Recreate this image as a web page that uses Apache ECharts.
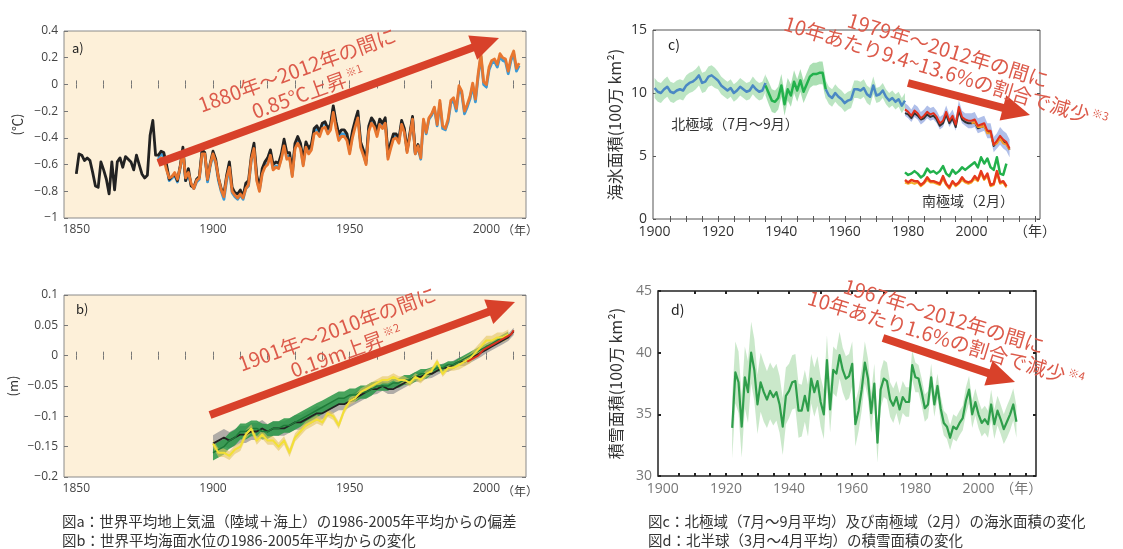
<!DOCTYPE html>
<html>
<head>
<meta charset="utf-8">
<script src="https://cdn.jsdelivr.net/npm/echarts@6/dist/echarts.min.js"></script>
<style>
  html, body { margin: 0; background: #fff; }
  #chart { width: 1123px; height: 549px; }
</style>
</head>
<body>
<div id="chart"></div>
<script>
// ---- a) 世界平均地上気温 偏差 (℃) ----
const aBlackStart = 1850
const aBlack = [
  -0.67, -0.52, -0.53, -0.57, -0.55, -0.57, -0.66, -0.76, -0.77, -0.58,
  -0.64, -0.71, -0.82, -0.58, -0.79, -0.58, -0.55, -0.62, -0.54, -0.56,
  -0.58, -0.64, -0.53, -0.60, -0.67, -0.70, -0.68, -0.38, -0.27, -0.53,
  -0.53, -0.50, -0.51, -0.60, -0.71, -0.69, -0.67, -0.72, -0.61, -0.47,
  -0.72, -0.63, -0.76, -0.77, -0.71, -0.69, -0.49, -0.51, -0.71, -0.59,
  -0.50, -0.56, -0.70, -0.78, -0.82, -0.68, -0.58, -0.77, -0.81, -0.82,
  -0.79, -0.84, -0.74, -0.72, -0.54, -0.44, -0.68, -0.77, -0.63, -0.58,
  -0.55, -0.49, -0.60, -0.58, -0.59, -0.52, -0.41, -0.51, -0.51, -0.65,
  -0.44, -0.39, -0.44, -0.57, -0.43, -0.48, -0.45, -0.33, -0.31, -0.35,
  -0.29, -0.28, -0.33, -0.30, -0.16, -0.28, -0.37, -0.34, -0.34, -0.37,
  -0.47, -0.35, -0.27, -0.20, -0.43, -0.49, -0.57, -0.31, -0.25, -0.28,
  -0.35, -0.26, -0.29, -0.25, -0.52, -0.44, -0.37, -0.37, -0.41, -0.27,
  -0.33, -0.49, -0.37, -0.24, -0.51, -0.45, -0.54
]
const aColorStart = 1880
const aOrange = [
  -0.58, -0.55, -0.56, -0.64, -0.70, -0.69, -0.66, -0.71, -0.62, -0.50,
  -0.70, -0.66, -0.74, -0.78, -0.72, -0.70, -0.52, -0.52, -0.71, -0.60,
  -0.52, -0.58, -0.70, -0.79, -0.84, -0.70, -0.62, -0.80, -0.83, -0.85,
  -0.82, -0.85, -0.78, -0.75, -0.56, -0.48, -0.72, -0.80, -0.67, -0.62,
  -0.60, -0.53, -0.64, -0.62, -0.63, -0.56, -0.46, -0.56, -0.55, -0.69,
  -0.48, -0.44, -0.48, -0.61, -0.47, -0.52, -0.49, -0.37, -0.36, -0.39,
  -0.33, -0.32, -0.37, -0.34, -0.21, -0.33, -0.42, -0.39, -0.39, -0.42,
  -0.52, -0.40, -0.32, -0.25, -0.47, -0.53, -0.60, -0.35, -0.29, -0.32,
  -0.39, -0.30, -0.33, -0.29, -0.56, -0.48, -0.41, -0.40, -0.44, -0.30,
  -0.36, -0.51, -0.39, -0.26, -0.52, -0.46, -0.55, -0.26, -0.36, -0.25,
  -0.22, -0.17, -0.30, -0.12, -0.31, -0.33, -0.26, -0.12, -0.10, -0.18,
  -0.01, -0.05, -0.20, -0.15, -0.09, 0.01, -0.11, 0.08, 0.23, 0.02,
  0.00, 0.13, 0.18, 0.19, 0.15, 0.23, 0.20, 0.19, 0.10, 0.20,
  0.25, 0.12, 0.16
]
const aBlue = [
  -0.56, -0.52, -0.54, -0.62, -0.72, -0.70, -0.68, -0.73, -0.63, -0.49,
  -0.72, -0.67, -0.75, -0.78, -0.73, -0.71, -0.51, -0.52, -0.73, -0.61,
  -0.53, -0.59, -0.72, -0.80, -0.86, -0.72, -0.63, -0.81, -0.84, -0.86,
  -0.83, -0.86, -0.78, -0.76, -0.57, -0.47, -0.71, -0.79, -0.66, -0.61,
  -0.59, -0.52, -0.63, -0.61, -0.62, -0.55, -0.44, -0.54, -0.54, -0.68,
  -0.47, -0.42, -0.46, -0.60, -0.45, -0.50, -0.47, -0.35, -0.33, -0.37,
  -0.30, -0.29, -0.35, -0.31, -0.18, -0.30, -0.40, -0.37, -0.37, -0.40,
  -0.50, -0.38, -0.30, -0.23, -0.45, -0.52, -0.59, -0.33, -0.27, -0.30,
  -0.37, -0.28, -0.31, -0.27, -0.54, -0.46, -0.39, -0.39, -0.43, -0.29,
  -0.35, -0.50, -0.38, -0.26, -0.52, -0.47, -0.56, -0.27, -0.37, -0.26,
  -0.23, -0.18, -0.31, -0.14, -0.33, -0.34, -0.28, -0.14, -0.12, -0.20,
  -0.03, -0.07, -0.22, -0.17, -0.11, -0.01, -0.13, 0.06, 0.21, 0.00,
  -0.02, 0.11, 0.16, 0.17, 0.13, 0.21, 0.18, 0.17, 0.08, 0.18,
  0.23, 0.10, 0.14
]

// ---- b) 世界平均海面水位 (m), 2年ごと ----
const bStart = 1900, bStep = 2
const bBlack = [
  -0.145, -0.14, -0.135, -0.14, -0.135, -0.13, -0.13, -0.125, -0.125, -0.12,
  -0.125, -0.12, -0.12, -0.12, -0.115, -0.11, -0.11, -0.105, -0.10, -0.095,
  -0.095, -0.09, -0.085, -0.08, -0.08, -0.075, -0.07, -0.065, -0.06, -0.055,
  -0.055, -0.05, -0.055, -0.055, -0.05, -0.045, -0.04, -0.035, -0.035, -0.03,
  -0.03, -0.025, -0.02, -0.02, -0.015, -0.01, -0.01, -0.005, 0.0, 0.005,
  0.01, 0.015, 0.02, 0.025, 0.03, 0.04
]
const bBlackErr = [
  0.014, 0.014, 0.014, 0.014, 0.014, 0.014, 0.014, 0.014, 0.014, 0.014,
  0.012, 0.012, 0.012, 0.012, 0.012, 0.012, 0.012, 0.012, 0.012, 0.012,
  0.010, 0.010, 0.010, 0.010, 0.010, 0.010, 0.010, 0.010, 0.010, 0.010,
  0.008, 0.008, 0.008, 0.008, 0.008, 0.008, 0.008, 0.008, 0.008, 0.008,
  0.007, 0.007, 0.007, 0.007, 0.007, 0.007, 0.007, 0.007, 0.007, 0.007,
  0.006, 0.006, 0.006, 0.006, 0.006, 0.006
]
const bGreen = [
  -0.16, -0.155, -0.15, -0.14, -0.135, -0.125, -0.125, -0.12, -0.12, -0.125,
  -0.125, -0.12, -0.12, -0.115, -0.115, -0.11, -0.105, -0.10, -0.095, -0.09,
  -0.085, -0.08, -0.075, -0.07, -0.07, -0.065, -0.065, -0.06, -0.06, -0.055,
  -0.05, -0.05, -0.05, -0.045, -0.045, -0.04, -0.04, -0.035, -0.03, -0.03,
  -0.025, -0.02, -0.02, -0.015, -0.015, -0.01, -0.005, 0.0, 0.005, 0.01,
  0.015, 0.02, 0.025, 0.03, 0.035
]
const bGreenErr = [
  0.013, 0.013, 0.013, 0.013, 0.013, 0.013, 0.013, 0.013, 0.013, 0.013,
  0.012, 0.012, 0.012, 0.012, 0.012, 0.012, 0.012, 0.012, 0.012, 0.012,
  0.011, 0.011, 0.011, 0.011, 0.011, 0.011, 0.011, 0.011, 0.011, 0.011,
  0.008, 0.008, 0.008, 0.008, 0.008, 0.008, 0.008, 0.008, 0.008, 0.008,
  0.006, 0.006, 0.006, 0.006, 0.006, 0.006, 0.006, 0.006, 0.006, 0.006,
  0.005, 0.005, 0.005, 0.005, 0.005
]
const bYellow = [
  -0.145, -0.16, -0.16, -0.165, -0.155, -0.15, -0.13, -0.12, -0.14, -0.13,
  -0.14, -0.14, -0.15, -0.14, -0.16, -0.135, -0.125, -0.115, -0.11, -0.105,
  -0.11, -0.095, -0.10, -0.115, -0.09, -0.075, -0.07, -0.06, -0.055, -0.05,
  -0.045, -0.04, -0.04, -0.035, -0.04, -0.04, -0.045, -0.035, -0.04, -0.03,
  -0.025, -0.01, -0.03, -0.02, -0.02, -0.015, -0.01, -0.005, 0.005, 0.015,
  0.025, 0.025, 0.03, 0.03, 0.035
]
const bYellowErr = [
  0.007, 0.007, 0.007, 0.007, 0.007, 0.007, 0.007, 0.007, 0.007, 0.007,
  0.007, 0.007, 0.007, 0.007, 0.007, 0.007, 0.007, 0.007, 0.007, 0.007,
  0.006, 0.006, 0.006, 0.006, 0.006, 0.006, 0.006, 0.006, 0.006, 0.006,
  0.006, 0.006, 0.006, 0.006, 0.006, 0.006, 0.006, 0.006, 0.006, 0.006,
  0.005, 0.005, 0.005, 0.005, 0.005, 0.008, 0.008, 0.008, 0.008, 0.008,
  0.008, 0.008, 0.008, 0.008, 0.008
]
const bRedYears = [1993, 1995, 1997, 1999, 2001, 2003, 2005, 2007, 2009, 2010]
const bRed = [-0.01, -0.005, 0.0, 0.01, 0.015, 0.02, 0.025, 0.03, 0.035, 0.042]

// ---- c) 海氷面積 (100万 km2) ----
const cHistStart = 1900
const cHist = [
  10.4, 10.1, 10.0, 10.3, 10.5, 10.1, 10.0, 10.2, 10.3, 10.2,
  10.6, 10.8, 10.9, 11.1, 11.4, 10.8, 10.9, 11.3, 11.4, 11.2,
  11.0, 10.6, 10.4, 10.2, 10.4, 10.0, 10.2, 10.5, 10.3, 10.1,
  10.2, 10.6, 10.3, 10.1, 10.2, 10.8, null, null, null, null,
  null, null, null, null, null, null, null, null, null, null,
  null, null, null, null, 10.3, 9.8, 9.6, 10.0, 9.7, 9.5,
  9.2, 9.4, 9.5, 10.3, 10.3, 10.2, 10.4, 9.9, 9.7, 10.6,
  9.8, 9.9, 10.2, 9.7, 9.4, 9.6, 9.3, 9.5, 9.0, 9.4
]
const cHistErr = [
  0.8, 0.8, 0.8, 0.8, 0.8, 0.8, 0.8, 0.8, 0.8, 0.8,
  0.8, 0.8, 0.8, 0.8, 0.8, 0.8, 0.8, 0.8, 0.8, 0.8,
  0.7, 0.7, 0.7, 0.7, 0.7, 0.7, 0.7, 0.7, 0.7, 0.7,
  0.7, 0.7, 0.7, 0.7, 0.7, 0.7, null, null, null, null,
  null, null, null, null, null, null, null, null, null, null,
  null, null, null, null, 0.7, 0.7, 0.7, 0.7, 0.7, 0.7,
  0.7, 0.7, 0.7, 0.7, 0.7, 0.7, 0.7, 0.7, 0.7, 0.7,
  0.6, 0.6, 0.6, 0.6, 0.6, 0.6, 0.6, 0.6, 0.6, 0.6
]
const cGreenStart = 1935
const cGreen = [
  10.6, 10.0, 9.4, 9.3, 9.6, 10.6, 9.1, 10.3, 9.8, 10.9,
  10.2, 11.0, 10.1, 10.7, 11.3, 11.5, 11.5, 11.6, 11.6, 10.3
]
const cGreenErr = [
  0.8, 0.9, 0.9, 0.9, 0.9, 0.9, 0.9, 0.9, 0.9, 0.9,
  0.9, 0.9, 0.9, 0.9, 0.9, 0.9, 0.9, 0.9, 0.9, 0.8
]
const cSatStart = 1979
const cSatRed = [
  8.7, 8.5, 8.2, 8.6, 8.4, 8.0, 8.2, 8.5, 8.3, 8.4,
  8.1, 7.6, 7.8, 8.5, 7.8, 8.2, 7.5, 8.9, 8.1, 7.9,
  7.8, 7.8, 7.9, 7.4, 7.5, 7.6, 7.0, 7.0, 5.9, 6.2,
  6.6, 6.3, 6.1, 5.6
]
const cSatBlack = [
  8.4, 8.3, 8.0, 8.4, 8.2, 7.9, 8.0, 8.3, 8.1, 8.2,
  7.9, 7.4, 7.6, 8.3, 7.6, 8.0, 7.3, 8.6, 7.9, 7.7,
  7.6, 7.6, 7.7, 7.2, 7.3, 7.4, 6.9, 6.9, 5.8, 6.1,
  6.5, 6.1, 6.0, 5.5
]
const cSatErr = [
  0.5, 0.5, 0.5, 0.5, 0.5, 0.5, 0.5, 0.5, 0.5, 0.5,
  0.5, 0.5, 0.5, 0.5, 0.5, 0.5, 0.5, 0.5, 0.5, 0.5,
  0.6, 0.6, 0.6, 0.6, 0.6, 0.6, 0.6, 0.6, 0.6, 0.6,
  0.7, 0.7, 0.7, 0.7
]
const cSatOrangeStart = 2000
const cSatOrange = [7.6, 7.7, 7.3, 7.3, 7.4, 6.8, 6.8, 5.9, 6.0, 6.4, 6.0, 5.9, 5.5]
const cAntStart = 1979
const cAntGreen = [
  3.7, 3.5, 3.6, 3.8, 3.6, 3.3, 3.5, 4.0, 3.7, 3.8,
  3.6, 3.8, 4.2, 3.6, 3.4, 3.9, 3.6, 3.8, 4.1, 3.9,
  4.1, 4.3, 4.5, 4.1, 4.9, 4.4, 4.8, 4.1, 3.9, 4.9,
  3.6, 3.5, 4.4
]
const cAntRed = [
  3.1, 2.9, 3.1, 3.0, 3.0, 2.7, 2.9, 3.3, 3.0, 3.0,
  2.9, 2.8, 3.4, 2.8, 2.5, 3.0, 2.7, 2.9, 3.3, 3.0,
  2.9, 3.0, 3.4, 3.1, 3.8, 3.2, 3.6, 2.7, 2.8, 3.8,
  2.9, 3.0, 2.6
]
const cAntOrange = [
  2.9, 2.8, 2.9, 2.8, 2.9, 2.6, 2.8, 3.1, 2.9, 2.9,
  2.8, 2.7, 3.2, 2.7, 2.4, 2.9, 2.6, 2.8, 3.1, 2.9,
  2.8, 2.9, 3.2, 3.0, 3.6, 3.1, 3.4, 2.6, 2.7, 3.6,
  2.8, 2.9, 2.5
]

// ---- d) 北半球積雪面積 (100万 km2) ----
const dStart = 1922
const dSnow = [
  33.9, 38.4, 37.6, 34.0, 38.0, 36.8, 40.0, 38.6, 35.8, 37.6,
  36.8, 36.2, 36.9, 36.4, 36.8, 35.8, 34.0, 36.5, 36.9, 37.6,
  37.7, 35.3, 35.3, 36.5, 35.3, 37.9, 36.8, 37.7, 36.0, 35.0,
  39.4, 35.4, 38.6, 38.3, 39.8, 38.6, 37.9, 38.1, 39.1, 34.2,
  35.3, 37.0, 39.2, 37.9, 35.1, 37.5, 32.7, 37.0, 37.9, 37.7,
  36.2, 35.7, 36.4, 35.4, 36.4, 36.0, 36.0, 39.0, 38.0, 37.9,
  36.8, 35.5, 35.8, 38.0, 35.8, 37.3, 35.5, 34.3, 34.0, 33.1,
  34.0, 33.8, 34.3, 34.7, 36.1, 37.0, 35.0, 36.0, 35.0, 34.3,
  34.6, 34.2, 35.8, 34.2, 35.3, 34.6, 33.8, 34.4, 35.0, 35.8,
  34.4
]
const dSnowErr = [
  2.5, 2.5, 2.5, 2.5, 2.5, 2.5, 2.5, 2.5, 2.4,
  2.4, 2.4, 2.3, 2.3, 2.3, 2.3, 2.3, 2.3, 2.3, 2.2,
  2.2, 2.2, 2.2, 2.1, 2.1, 2.1, 2.0, 2.0, 2.0, 2.0,
  2.0, 2.0, 1.9, 1.9, 1.9, 1.9, 1.8, 1.8, 1.8, 1.8,
  1.8, 1.7, 1.7, 1.7, 1.6, 1.6, 1.6, 1.6, 1.5, 1.5,
  1.5, 1.4, 1.4, 1.3, 1.3, 1.3, 1.2, 1.2, 1.2, 1.2,
  1.1, 1.1, 1.1, 1.1, 1.1, 1.0, 1.0, 1.0, 1.0, 1.0,
  1.0, 1.0, 1.0, 1.0, 1.0, 1.1, 1.1, 1.1, 1.1, 1.1,
  1.1, 1.1, 1.1, 1.2, 1.2, 1.2, 1.2, 1.2, 1.3, 1.3, 1.3, 1.3
]

// ---- 軸目盛 ----
const abTicks = [1850, 1860, 1870, 1880, 1890, 1900, 1910, 1920, 1930, 1940, 1950, 1960, 1970, 1980, 1990, 2000, 2010]
const abLabels = [1850, 1900, 1950, 2000]
const cTicks = [1905, 1910, 1915, 1920, 1925, 1930, 1935, 1940, 1945, 1950, 1955, 1960, 1965, 1970, 1975, 1980, 1985, 1990, 1995, 2000, 2005, 2010, 2015, 2020]
const cLabels = [1900, 1920, 1940, 1960, 1980, 2000]
const dTicks = [1905, 1910, 1915, 1920, 1925, 1930, 1935, 1940, 1945, 1950, 1955, 1960, 1965, 1970, 1975, 1980, 1985, 1990, 1995, 2000, 2005, 2010, 2015]
const dTopTicks = [1910, 1920, 1930, 1940, 1950, 1960, 1970, 1980, 1990, 2000, 2010]
const dLabels = [1900, 1920, 1940, 1960, 1980, 2000]

const FONT = '"Open Sans", "Noto Sans CJK JP", sans-serif'
const JP = '"Noto Sans CJK JP", sans-serif'
const ARROW = '#d8412a'
const NOTE = '#dc5a4a'

const chart = echarts.init(document.getElementById('chart'), null, { renderer: 'canvas' })

function xAxes (gi, min, max, ticks, topTicks, labels, yearAt, lab, tick) {
  const base = { type: 'value', gridIndex: gi, min, max, splitLine: { show: false }, axisLine: { show: false } }
  const tickStyle = { color: tick.color, width: tick.width }
  return [
    {
      ...base, position: 'bottom',
      axisTick: { inside: true, length: tick.length, lineStyle: tickStyle, customValues: ticks },
      axisLabel: {
        customValues: yearAt ? labels.concat([yearAt]) : labels,
        formatter: v => (v === yearAt ? '（年）' : String(v)),
        color: lab.color, fontSize: lab.size, fontFamily: FONT, margin: lab.margin
      }
    },
    {
      ...base, position: 'top',
      axisTick: { inside: true, length: tick.length, lineStyle: tickStyle, customValues: topTicks },
      axisLabel: { show: false }
    }
  ]
}

function yAxes (gi, min, max, interval, lab, tick, name, nameGap, nameSize) {
  const base = { type: 'value', gridIndex: gi, min, max, interval, splitLine: { show: false }, axisLine: { show: false } }
  const tickStyle = { color: tick.color, width: tick.width }
  return [
    {
      ...base, position: 'left',
      axisTick: { inside: true, length: tick.length, lineStyle: tickStyle },
      axisLabel: {
        formatter: v => String(+v.toFixed(2)).replace('-', '−'),
        color: lab.color, fontSize: lab.size, fontFamily: FONT, margin: lab.margin
      },
      name, nameLocation: 'middle', nameRotate: 90, nameGap,
      nameTextStyle: { color: '#333', fontSize: nameSize, fontFamily: JP }
    },
    {
      ...base, position: 'right',
      axisTick: { inside: true, length: tick.length, lineStyle: tickStyle },
      axisLabel: { show: false }
    }
  ]
}

function pts (start, step, vals) {
  return vals.map((v, i) => [start + i * step, v])
}

function line (gi, data, color, width, z) {
  return {
    type: 'line', xAxisIndex: gi * 2, yAxisIndex: gi * 2, data,
    symbol: 'none', lineStyle: { color, width, join: 'round' }, z, silent: true, clip: true
  }
}

// 帯（値±誤差）を多角形で描く
function band (gi, start, step, vals, errs, color, z) {
  const segs = []
  let cur = []
  vals.forEach((v, i) => {
    if (v == null) {
      if (cur.length) segs.push(cur)
      cur = []
    } else {
      cur.push([start + i * step, v - errs[i], v + errs[i]])
    }
  })
  if (cur.length) segs.push(cur)
  return {
    type: 'custom', xAxisIndex: gi * 2, yAxisIndex: gi * 2, silent: true, z, clip: true,
    data: segs.map(s => [s[0][0], s[0][1]]),
    renderItem: (params, api) => {
      const s = segs[params.dataIndex]
      const top = s.map(d => api.coord([d[0], d[2]]))
      const bot = s.slice().reverse().map(d => api.coord([d[0], d[1]]))
      return { type: 'polygon', shape: { points: top.concat(bot) }, style: { fill: color } }
    }
  }
}

function arrow (x1, y1, x2, y2) {
  const len = Math.hypot(x2 - x1, y2 - y1)
  const ux = (x2 - x1) / len, uy = (y2 - y1) / len
  const nx = -uy, ny = ux
  const hl = 28, hw = 13
  const bx = x2 - ux * hl, by = y2 - uy * hl
  return [
    { type: 'line', z: 50, shape: { x1, y1, x2: bx + ux * 3, y2: by + uy * 3 }, style: { stroke: ARROW, lineWidth: 8 } },
    { type: 'polygon', z: 50, shape: { points: [[x2, y2], [bx + nx * hw, by + ny * hw], [bx - nx * hw, by - ny * hw]] }, style: { fill: ARROW } }
  ]
}

function note (x, y, deg, text) {
  return {
    type: 'text', x, y, rotation: deg * Math.PI / 180, z: 60,
    style: {
      text, fill: NOTE, fontSize: 20, fontFamily: JP, align: 'center', verticalAlign: 'middle',
      rich: { s: { fontSize: 11, fill: NOTE, fontFamily: JP, padding: [0, 0, 9, 2] } }
    }
  }
}

function label (x, y, text, size, color, align, family) {
  return {
    type: 'text', x, y, z: 40,
    style: { text, fill: color, fontSize: size, fontFamily: family || JP, align: align || 'left', verticalAlign: 'middle' }
  }
}

const abLab = { color: '#444', size: 12, margin: 6 }
const abTick = { color: '#777', width: 1, length: 4 }
const cLab = { color: '#333', size: 14, margin: 6 }
const cTick = { color: '#555', width: 1, length: 3 }
const dLab = { color: '#777', size: 14, margin: 6 }
const dTick = { color: '#222', width: 2, length: 3 }

const option = {
  animation: false,
  backgroundColor: '#fff',
  grid: [
    { left: 64, top: 31, width: 462, height: 187, show: true, backgroundColor: '#fdf0d9', borderColor: '#8a8a8a', borderWidth: 1 },
    { left: 64, top: 295, width: 462, height: 182, show: true, backgroundColor: '#fdf0d9', borderColor: '#8a8a8a', borderWidth: 1 },
    { left: 653, top: 30, width: 387, height: 189, show: true, backgroundColor: '#fff', borderColor: '#555', borderWidth: 1 },
    { left: 658, top: 291, width: 378, height: 185, show: true, backgroundColor: '#fff', borderColor: '#222', borderWidth: 1.5 }
  ],
  xAxis: [
    ...xAxes(0, 1845.5, 2014.5, abTicks, abTicks, abLabels, null, abLab, abTick),
    ...xAxes(1, 1845.5, 2014.5, abTicks, abTicks, abLabels, null, abLab, abTick),
    ...xAxes(2, 1899.5, 2021.6, cTicks, cTicks, cLabels, 2020, cLab, cTick),
    ...xAxes(3, 1898.5, 2018.2, dTicks, dTopTicks, dLabels, 2013.5, dLab, dTick)
  ],
  yAxis: [
    ...yAxes(0, -1, 0.4, 0.2, abLab, abTick, '(℃)', 40, 13),
    ...yAxes(1, -0.2, 0.1, 0.05, abLab, abTick, '(m)', 44, 13),
    ...yAxes(2, 0, 15, 5, cLab, cTick, '海氷面積(100万 km²)', 30, 16),
    ...yAxes(3, 30, 45, 5, dLab, dTick, '積雪面積(100万 km²)', 34, 16)
  ],
  series: [
    // a
    line(0, pts(aColorStart, 1, aBlue), '#3b9ad6', 2.8, 2),
    line(0, pts(aBlackStart, 1, aBlack), '#222', 2.8, 3),
    line(0, pts(aColorStart, 1, aOrange), '#e8762f', 2.8, 4),
    // b
    band(1, bStart, bStep, bBlack, bBlackErr, 'rgba(150,150,150,0.75)', 1),
    band(1, bStart, bStep, bGreen, bGreenErr, 'rgba(40,150,70,0.85)', 2),
    band(1, bStart, bStep, bYellow, bYellowErr, 'rgba(228,196,96,0.6)', 3),
    line(1, pts(bStart, bStep, bBlack), '#222', 1.8, 4),
    line(1, pts(bStart, bStep, bGreen), '#1f7a38', 1.5, 5),
    line(1, pts(bStart, bStep, bYellow), '#f3e035', 2, 6),
    line(1, bRedYears.map((y, i) => [y, bRed[i]]), '#d9301e', 2, 7),
    // c
    band(2, cHistStart, 1, cHist, cHistErr, 'rgba(160,218,170,0.7)', 1),
    band(2, cGreenStart, 1, cGreen, cGreenErr, 'rgba(150,215,160,0.8)', 1),
    band(2, cSatStart, 1, cSatRed, cSatErr, 'rgba(150,170,225,0.75)', 1),
    line(2, pts(cHistStart, 1, cHist), '#4a88c4', 2.5, 3),
    line(2, pts(cGreenStart, 1, cGreen), '#22b14c', 2.5, 4),
    line(2, pts(cSatStart, 1, cSatBlack), '#333', 2, 4),
    line(2, pts(cSatOrangeStart, 1, cSatOrange), '#f39a2c', 2, 5),
    line(2, pts(cSatStart, 1, cSatRed), '#e2301c', 2, 6),
    line(2, pts(cAntStart, 1, cAntGreen), '#22b14c', 2.5, 4),
    line(2, pts(cAntStart, 1, cAntOrange), '#f5b02a', 2, 5),
    line(2, pts(cAntStart, 1, cAntRed), '#e63a1c', 2.5, 6),
    // d
    band(3, dStart, 1, dSnow, dSnowErr, 'rgba(150,210,150,0.5)', 1),
    line(3, pts(dStart, 1, dSnow), '#2f9e4b', 2.2, 3)
  ],
  graphic: [
    label(72, 48, 'a)', 13, '#222'),
    label(76, 309, 'b)', 13, '#222'),
    label(668, 45, 'c)', 14, '#222'),
    label(671, 310, 'd)', 14, '#222'),
    label(520, 230, '（年）', 12, '#444', 'center'),
    label(520, 491, '（年）', 12, '#444', 'center'),
    label(735, 124, '北極域（7月～9月）', 14, '#333', 'center'),
    label(968, 201, '南極域（2月）', 14, '#333', 'center'),
    ...arrow(158, 163, 499, 38),
    note(297, 70, 20, '1880年～2012年の間に'),
    note(308, 92, 20, '0.85℃上昇{s|※1}'),
    ...arrow(210, 415, 515, 302),
    note(337, 329, 20, '1901年～2010年の間に'),
    note(346, 351, 20, '0.19m上昇{s|※2}'),
    ...arrow(908, 83, 1030, 115),
    note(948, 50, -17, '1979年～2012年の間に'),
    note(946, 72, -17, '10年あたり9.4~13.6%の割合で減少{s|※3}'),
    ...arrow(883, 338, 1015, 382),
    note(944, 316, -17, '1967年～2012年の間に'),
    note(946, 339, -17, '10年あたり1.6%の割合で減少{s|※4}'),
    label(62, 521, '図a：世界平均地上気温（陸域＋海上）の1986-2005年平均からの偏差', 14.5, '#333'),
    label(62, 540, '図b：世界平均海面水位の1986-2005年平均からの変化', 14.5, '#333'),
    label(648, 521, '図c：北極域（7月～9月平均）及び南極域（2月）の海氷面積の変化', 14.5, '#333'),
    label(648, 540, '図d：北半球（3月～4月平均）の積雪面積の変化', 14.5, '#333')
  ]
}

chart.setOption(option)
</script>
</body>
</html>
